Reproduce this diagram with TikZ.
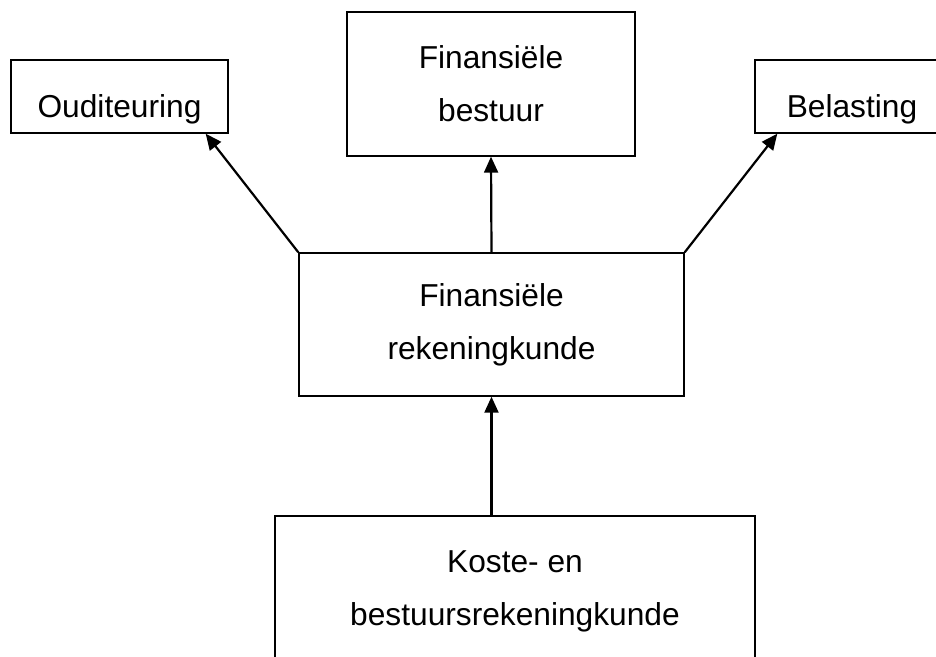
\documentclass[tikz,border=0pt]{standalone}
\usepackage{fontspec}
\setmainfont{Liberation Sans}
\usetikzlibrary{calc,arrows.meta}
\begin{document}
\begin{tikzpicture}[x=1pt,y=-1pt,
  box/.style={draw,line width=1.4pt,inner sep=0pt,align=center,
    font=\fontsize{31.7}{53}\selectfont},
  onebox/.style={box,text height=48pt,text depth=7pt},
  arr/.style={line width=2.2pt,-{Triangle[length=16pt,width=14pt]}}]
\useasboundingbox (0,0) rectangle (936,656);
\clip (0,0) rectangle (936,656);
\node[onebox,minimum width=217pt,minimum height=73pt] (oud) at (119.5,96.5) {Ouditeuring};
\node[box,minimum width=288pt,minimum height=144pt] (fb) at (491,84) {Finansiële\\bestuur};
\node[onebox,minimum width=194pt,minimum height=73pt] (bel) at (852,96.5) {Belasting};
\node[box,minimum width=385pt,minimum height=143pt] (fr) at (491.5,324.5) {Finansiële\\rekeningkunde};
\node[box,minimum width=480pt,minimum height=150pt] (kb) at (515,591) {Koste- en\\bestuursrekeningkunde};
\coordinate (o) at ($(oud.south east)+(-23,0)$);
\coordinate (b) at ($(bel.south west)+(23,0)$);
\draw[arr] (fr.north west)--(o);
\draw[arr] (fr.north)--(fb.south);
\draw[arr] (fr.north east)--(b);
\draw[arr] (kb.north-|fr.south)--(fr.south);
\end{tikzpicture}
\end{document}
